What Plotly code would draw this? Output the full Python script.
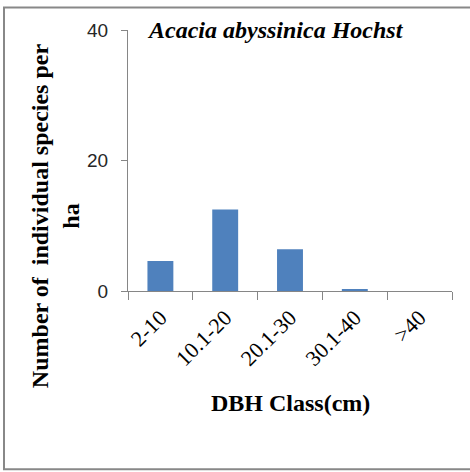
import plotly.graph_objects as go

categories = ["2-10", "10.1-20", "20.1-30", "30.1-40", ">40"]
values = [4.6, 12.5, 6.4, 0.3, 0.0]
y_ticks = [0, 20, 40]

W, H = 470, 472
L, R, T, B = 128, 18, 29.5, 181
pw, ph = W - L - R, H - T - B

def px_x(x):
    return (x - L) / pw

def px_y(y):
    return (H - B - y) / ph

fig = go.Figure(go.Bar(
    x=categories, y=values,
    marker=dict(color="#4F81BD", line=dict(width=0)),
    width=0.4,
))

serif = "Liberation Serif, Times New Roman, serif"
sans = "Liberation Sans, Arial, sans-serif"

fig.update_layout(
    width=W, height=H,
    margin=dict(l=L, r=R, t=T, b=B),
    paper_bgcolor="white", plot_bgcolor="white",
    showlegend=False,
    xaxis=dict(
        tickangle=-45, tickson="boundaries", ticks="outside", ticklen=8,
        tickcolor="#868686", showline=True, linecolor="#868686", linewidth=1,
        showgrid=False, ticklabelstandoff=4,
        tickfont=dict(family=serif, size=22, color="black"),
    ),
    yaxis=dict(
        range=[0, 40], tickvals=y_ticks, ticks="outside", ticklen=6,
        tickcolor="#868686", showline=True, linecolor="#868686", linewidth=1,
        showgrid=False, zeroline=False, ticklabelstandoff=9,
        tickfont=dict(family=sans, size=19, color="#262626"),
    ),
    shapes=[dict(
        type="rect", xref="paper", yref="paper",
        x0=px_x(4), x1=px_x(480), y0=px_y(469.5), y1=px_y(7),
        line=dict(color="#888888", width=2), layer="below",
    )],
    annotations=[
        dict(
            text="<b><i>Acacia abyssinica Hochst</i></b>", xref="paper", yref="paper",
            x=px_x(275), y=px_y(29), xanchor="center", yanchor="middle", showarrow=False,
            font=dict(family=serif, size=24, color="black"),
        ),
        dict(
            text="<b>DBH Class(cm)</b>", xref="paper", yref="paper",
            x=px_x(290), y=px_y(403), xanchor="center", yanchor="middle", showarrow=False,
            font=dict(family=serif, size=24, color="black"),
        ),
        dict(
            text="<b>Number of  individual species per<br>ha</b>", xref="paper", yref="paper",
            x=px_x(55), y=px_y(216), xanchor="center", yanchor="middle", showarrow=False,
            textangle=-90, font=dict(family=serif, size=24, color="black"),
        ),
    ],
)

fig.write_html("out.html", config={"displayModeBar": False},
               post_script="document.body.style.margin='0';")
